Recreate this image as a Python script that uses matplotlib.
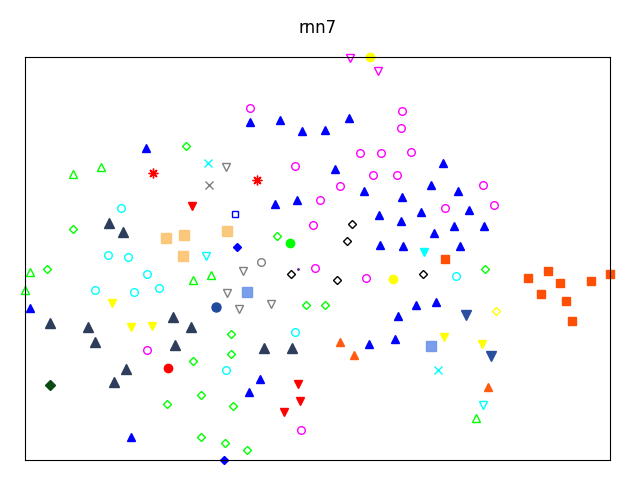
import matplotlib
matplotlib.use('Agg')
import matplotlib.pyplot as plt

# points (x right, y up)
blue_tri_x = [146, 250, 280, 302, 325, 349, 335, 443, 364, 431, 458, 297, 275, 402, 469, 379, 421,
              401, 454, 484, 434, 380, 403, 460, 30, 398, 416, 436, 369, 395, 260, 249, 131]
blue_tri_y = [332, 358, 360, 349, 350, 362, 311, 317, 289, 295, 289, 280, 276, 283, 270, 265, 268,
              259, 254, 254, 247, 235, 234, 234, 172, 164, 175, 178, 136, 141, 101, 88, 43]

mag_circ_x = [250, 402, 401, 295, 360, 381, 411, 373, 397, 340, 483, 320, 445, 494, 313, 315, 366, 147, 301]
mag_circ_y = [372, 369, 352, 314, 327, 327, 328, 305, 305, 294, 295, 280, 272, 275, 255, 212, 202, 130, 50]
mag_vtri_x = [350, 378]
mag_vtri_y = [422, 409]

yel_circ_x = [370, 393]
yel_circ_y = [423, 201]
yel_vtri_x = [112, 131, 152, 444, 482]
yel_vtri_y = [177, 153, 154, 143, 136]
yel_dia_x = [496]
yel_dia_y = [169]

grn_tri_x = [73, 101, 30, 25, 193, 211, 476]
grn_tri_y = [306, 313, 208, 190, 200, 205, 62]
grn_dia_x = [186, 73, 47, 277, 306, 325, 485, 193, 201, 167, 201, 231, 231, 233, 225, 247]
grn_dia_y = [334, 251, 211, 244, 175, 175, 211, 119, 85, 76, 43, 146, 126, 74, 37, 30]
grn_circ_x = [290]
grn_circ_y = [237]

cyan_x_x = [208, 438]
cyan_x_y = [317, 110]
cyan_circ_x = [121, 108, 128, 147, 95, 134, 159, 456, 295, 226]
cyan_circ_y = [272, 225, 223, 206, 190, 188, 192, 204, 148, 110]
cyan_vopen_x = [206, 483]
cyan_vopen_y = [224, 75]
cyan_vfill_x = [424]
cyan_vfill_y = [228]

gray_x_x = [209]
gray_x_y = [295]
gray_v_x = [226, 243, 227, 239, 271]
gray_v_y = [313, 209, 187, 171, 176]
gray_circ_x = [261]
gray_circ_y = [218]

red_ast_x = [153, 257]
red_ast_y = [307, 300]
red_v_x = [192, 298, 300, 284]
red_v_y = [274, 96, 79, 68]
red_circ_x = [168]
red_circ_y = [112]

org_sq_x = [166, 184, 183, 227]
org_sq_y = [242, 245, 224, 249]
cfb_sq_x = [247, 431]
cfb_sq_y = [188, 134]
blue_osq_x = [235]
blue_osq_y = [266]
blue_dia_x = [237, 224]
blue_dia_y = [233, 20]
navy_circ_x = [216]
navy_circ_y = [173]

slate_tri_x = [109, 123, 50, 88, 173, 191, 95, 175, 126, 114, 264, 292]
slate_tri_y = [257, 248, 157, 153, 163, 153, 138, 135, 111, 98, 132, 132]
dkgrn_dia_x = [50]
dkgrn_dia_y = [95]

blk_dia_x = [352, 347, 291, 337, 423]
blk_dia_y = [256, 239, 206, 200, 206]
dot_x = [298]
dot_y = [211]

ored_sq_x = [445, 548, 528, 560, 591, 610, 541, 566, 572]
ored_sq_y = [221, 209, 202, 197, 199, 206, 186, 179, 159]
ored_tri_x = [340, 354, 488]
ored_tri_y = [138, 125, 93]

dblue_v_x = [466, 491]
dblue_v_y = [165, 124]

fig = plt.figure(figsize=(6.4, 4.8), dpi=100)
ax = fig.add_axes([25/640, 20/480, 585/640, 403/480])


def pts(x, y, marker, color, size, filled=True, mew=1.0, alpha=1.0):
    face = color if filled else 'none'
    ax.plot(x, y, linestyle='none', marker=marker, markersize=size,
            markerfacecolor=face, markeredgecolor=color, markeredgewidth=mew,
            alpha=alpha, clip_on=False)


pts(blue_tri_x, blue_tri_y, '^', '#0000ff', 5.5)
pts(mag_circ_x, mag_circ_y, 'o', '#ff00ff', 5.5, filled=False)
pts(mag_vtri_x, mag_vtri_y, 'v', '#ff00ff', 5.5, filled=False)
pts(yel_circ_x, yel_circ_y, 'o', '#ffff00', 6)
pts(yel_vtri_x, yel_vtri_y, 'v', '#ffff00', 5.5)
pts(yel_dia_x, yel_dia_y, 'D', '#ffff00', 4, filled=False)
pts(grn_tri_x, grn_tri_y, '^', '#00ff00', 5.5, filled=False)
pts(grn_dia_x, grn_dia_y, 'D', '#00ff00', 4, filled=False)
pts(grn_circ_x, grn_circ_y, 'o', '#00ff00', 6)
pts(cyan_x_x, cyan_x_y, 'x', '#00ffff', 6)
pts(cyan_circ_x, cyan_circ_y, 'o', '#00ffff', 5.5, filled=False)
pts(cyan_vopen_x, cyan_vopen_y, 'v', '#00ffff', 5.5, filled=False)
pts(cyan_vfill_x, cyan_vfill_y, 'v', '#00ffff', 6)
pts(gray_x_x, gray_x_y, 'x', '#808080', 6)
pts(gray_v_x, gray_v_y, 'v', '#808080', 5.5, filled=False)
pts(gray_circ_x, gray_circ_y, 'o', '#808080', 5.5, filled=False)
pts(red_ast_x, red_ast_y, (8, 2, 0), '#ff0000', 7)
pts(red_v_x, red_v_y, 'v', '#ff0000', 5.5)
pts(red_circ_x, red_circ_y, 'o', '#ff0000', 6)
pts(org_sq_x, org_sq_y, 's', '#fbc470', 6.5, alpha=0.9)
pts(cfb_sq_x, cfb_sq_y, 's', '#6d95e8', 6.5, alpha=0.9)
pts(blue_osq_x, blue_osq_y, 's', '#0000ff', 5, filled=False)
pts(blue_dia_x, blue_dia_y, 'D', '#0000ff', 4.5)
pts(navy_circ_x, navy_circ_y, 'o', '#1f4a9e', 6.5)
pts(slate_tri_x, slate_tri_y, '^', '#2e3d5c', 7.5)
pts(dkgrn_dia_x, dkgrn_dia_y, 'D', '#0a4a14', 5)
pts(blk_dia_x, blk_dia_y, 'D', '#000000', 4, filled=False)
pts(dot_x, dot_y, '.', '#602080', 2)
pts(ored_sq_x, ored_sq_y, 's', '#ff4f05', 6)
pts(ored_tri_x, ored_tri_y, '^', '#ff5a10', 5.5)
pts(dblue_v_x, dblue_v_y, 'v', '#2a4f9f', 7.5)

ax.set_xlim(25, 610)
ax.set_ylim(20, 423)
ax.set_xticks([])
ax.set_yticks([])
ax.set_title('rnn7', fontsize=12, pad=17)

fig.savefig('out.png', dpi=100)
